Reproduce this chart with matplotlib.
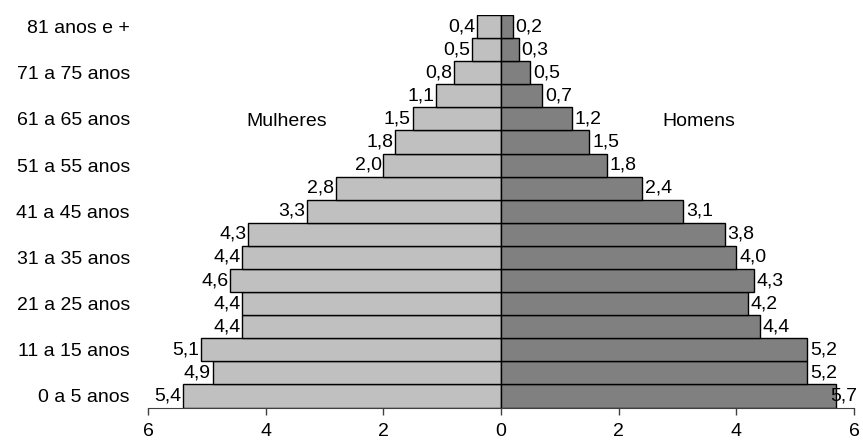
import numpy as np
import matplotlib
matplotlib.use("Agg")
import matplotlib.pyplot as plt

plt.rcParams["font.family"] = ["Liberation Sans", "DejaVu Sans"]

# faixas etárias (de baixo para cima)
faixas = ["0 a 5 anos", "6 a 10 anos", "11 a 15 anos", "16 a 20 anos",
          "21 a 25 anos", "26 a 30 anos", "31 a 35 anos", "36 a 40 anos",
          "41 a 45 anos", "46 a 50 anos", "51 a 55 anos", "56 a 60 anos",
          "61 a 65 anos", "66 a 70 anos", "71 a 75 anos", "76 a 80 anos",
          "81 anos e +"]
mulheres = [5.4, 4.9, 5.1, 4.4, 4.4, 4.6, 4.4, 4.3, 3.3, 2.8, 2.0, 1.8,
            1.5, 1.1, 0.8, 0.5, 0.4]
homens = [5.7, 5.2, 5.2, 4.4, 4.2, 4.3, 4.0, 3.8, 3.1, 2.4, 1.8, 1.5,
          1.2, 0.7, 0.5, 0.3, 0.2]
xticks = [-6, -4, -2, 0, 2, 4, 6]

fig = plt.figure(figsize=(8.63, 4.42), dpi=100)
ax = fig.add_axes([0.1715, 0.078, 0.818, 0.888])

y = np.arange(len(faixas))
ax.barh(y, [-v for v in mulheres], height=1.0, color="#C0C0C0",
        edgecolor="black", linewidth=1)
ax.barh(y, homens, height=1.0, color="#808080",
        edgecolor="black", linewidth=1)

fs = 14
fmt = lambda v: f"{v:.1f}".replace(".", ",")
for yi, v in zip(y, mulheres):
    ax.text(-v - 0.03, yi, fmt(v), ha="right", va="center", fontsize=fs)
for yi, v in zip(y, homens):
    ax.text(min(v + 0.05, 5.6), yi, fmt(v), ha="left", va="center",
            fontsize=fs)

ax.text(-3.65, 11.9, "Mulheres", ha="center", va="center", fontsize=fs)
ax.text(3.37, 11.9, "Homens", ha="center", va="center", fontsize=fs)

ax.set_xlim(-6, 6)
ax.set_ylim(-0.5, len(faixas) - 0.5)
ax.set_xticks(xticks)
ax.set_xticklabels([str(abs(t)) for t in xticks], fontsize=fs)
ax.set_yticks(y[::2])
ax.set_yticklabels(faixas[::2], fontsize=fs)
ax.tick_params(axis="y", length=0, pad=13)
ax.tick_params(axis="x", length=5, width=1, color="#404040", pad=6)

for s in ["top", "right", "left"]:
    ax.spines[s].set_visible(False)
ax.spines["bottom"].set_color("#404040")

fig.savefig("out.png", dpi=100)
